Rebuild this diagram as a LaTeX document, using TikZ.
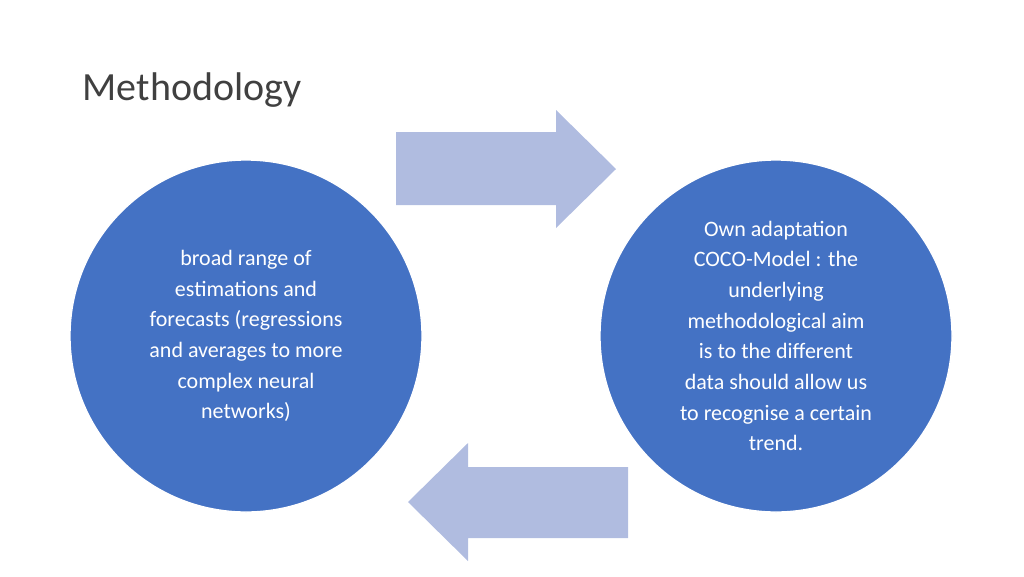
\documentclass[tikz,border=0pt]{standalone}
\usepackage{fontspec}
\setmainfont{Carlito}
\definecolor{circ}{HTML}{4472C4}
\definecolor{arr}{HTML}{B0BCE0}
\begin{document}
\begin{tikzpicture}[x=0.75pt,y=-0.75pt,
  circ/.style={circle,fill=circ,draw=white,line width=1pt,minimum size=264pt,inner sep=0pt,text=white,align=center,font=\fontsize{16.5}{23}\selectfont},
  arrow/.style={fill=arr,draw=none}]
\useasboundingbox (0,0) rectangle (1024,576);
\node[anchor=base west,font=\fontsize{30}{36}\selectfont,text=black!75] (title) at (78,100) {Methodology};
\node[circ] (left) at (246,336) {broad range of\\estimations and\\forecasts (regressions\\and averages to more\\complex neural\\networks)};
\node[circ] (right) at (776,336) {Own adaptation\\COCO-Model : the\\underlying\\methodological aim\\is to the different\\data should allow us\\to recognise a certain\\trend.};
\fill[arrow] (396,132) -- (556,132) -- (556,110) -- (616,169) -- (556,228) -- (556,205) -- (396,205) -- cycle;
\fill[arrow] (628,467) -- (468,467) -- (468,443) -- (408,502) -- (468,561) -- (468,538) -- (628,538) -- cycle;
\end{tikzpicture}
\end{document}
